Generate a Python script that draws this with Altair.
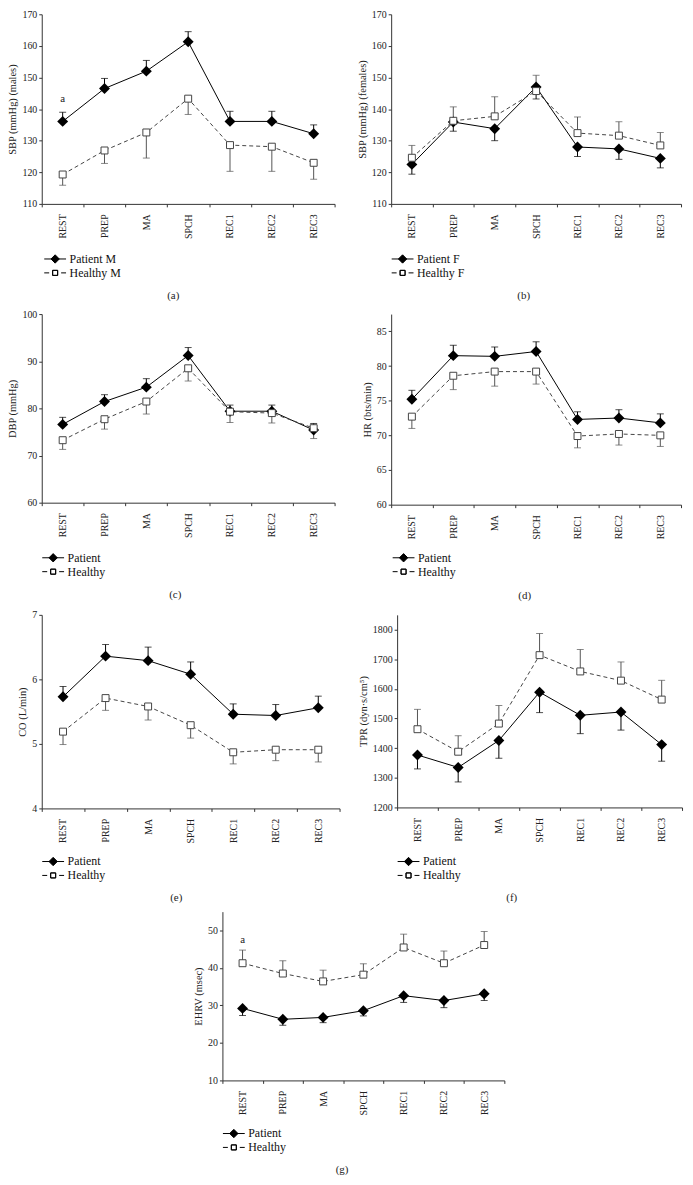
import altair as alt
import pandas as pd

STAGES = ["REST", "PREP", "MA", "SPCH", "REC1", "REC2", "REC3"]

# (a) SBP males
A_PAT = [136.1, 146.5, 152.0, 161.3, 136.1, 136.1, 132.2]
A_PAT_ERR = [2.9, 3.2, 3.4, 3.2, 3.2, 3.2, 2.8]
A_HEA = [119.3, 126.9, 132.6, 143.3, 128.6, 128.1, 123.0]
A_HEA_ERR = [3.4, 4.1, 8.1, 5.0, 8.3, 7.8, 5.2]
# (b) SBP females
B_PAT = [122.5, 135.9, 133.8, 147.0, 128.0, 127.4, 124.4]
B_PAT_ERR = [3.1, 2.9, 3.8, 3.8, 3.0, 3.3, 3.0]
B_HEA = [124.6, 136.3, 137.7, 145.7, 132.4, 131.6, 128.5]
B_HEA_ERR = [3.9, 4.4, 6.2, 5.0, 5.1, 4.4, 4.1]
# (c) DBP
C_PAT = [76.6, 81.45, 84.5, 91.2, 79.4, 79.4, 75.4]
C_PAT_ERR = [1.5, 1.45, 1.8, 1.7, 1.3, 1.3, 1.4]
C_HEA = [73.25, 77.7, 81.45, 88.5, 79.3, 79.0, 75.8]
C_HEA_ERR = [1.95, 2.1, 2.65, 2.7, 2.3, 2.1, 2.2]
# (d) HR
D_PAT = [75.2, 81.5, 81.4, 82.1, 72.3, 72.5, 71.8]
D_PAT_ERR = [1.3, 1.5, 1.35, 1.4, 1.1, 1.2, 1.3]
D_HEA = [72.7, 78.6, 79.2, 79.2, 69.9, 70.2, 70.0]
D_HEA_ERR = [1.7, 2.0, 2.1, 1.8, 1.7, 1.6, 1.6]
# (e) CO
E_PAT = [5.73, 6.36, 6.29, 6.08, 5.46, 5.44, 5.56]
E_PAT_ERR = [0.16, 0.18, 0.21, 0.19, 0.16, 0.17, 0.18]
E_HEA = [5.19, 5.71, 5.58, 5.29, 4.87, 4.91, 4.91]
E_HEA_ERR = [0.20, 0.19, 0.21, 0.20, 0.18, 0.17, 0.19]
# (f) TPR
F_PAT = [1377, 1335, 1426, 1589, 1511, 1522, 1412]
F_PAT_ERR = [47, 49, 60, 69, 62, 61, 56]
F_HEA = [1464, 1388, 1483, 1714, 1659, 1628, 1564]
F_HEA_ERR = [67, 54, 61, 73, 74, 63, 65]
# (g) EHRV
G_PAT = [29.2, 26.3, 26.8, 28.6, 32.6, 31.3, 33.1]
G_PAT_ERR = [1.9, 1.6, 1.4, 1.4, 1.8, 1.9, 1.8]
G_HEA = [41.25, 38.5, 36.4, 38.2, 45.45, 41.25, 46.1]
G_HEA_ERR = [3.5, 3.4, 3.0, 2.9, 3.55, 3.25, 3.6]

NOTE_A = [("REST", 143.2, "a")]
NOTE_G = [("REST", 47.4, "a")]

FONT = "Liberation Serif"
AXC = "#333333"

# legend symbols: line + marker (custom paths, unit = half of sqrt(symbolSize))
PATH_PAT = "M-1.57,0L1.57,0M0,-0.6L0.6,0L0,0.6L-0.6,0Z"
PATH_HEA = ("M-1.57,0L-0.86,0M0.86,0L1.57,0"
            "M-0.36,-0.36L0.36,-0.36L0.36,0.36L-0.36,0.36Z"
            "M-0.36,-0.36L-0.36,0.36L0.36,0.36L0.36,-0.36Z")


def panel(ytitle, caption, labels, pat, pat_err, hea, hea_err, pat_up,
          domain, ticks, width, height, leg_xy, cap_xy, notes=None):
    pl, hl = labels
    sign = 1 if pat_up else -1
    rows = []
    for i, s in enumerate(STAGES):
        rows.append(dict(stage=s, series=pl, value=pat[i], end=pat[i] + sign * pat_err[i]))
        rows.append(dict(stage=s, series=hl, value=hea[i], end=hea[i] - sign * hea_err[i]))
    df = pd.DataFrame(rows)

    xsc = alt.Scale(type="band", paddingInner=0, paddingOuter=0)
    ysc = alt.Scale(domain=domain, nice=False, zero=False)
    xax = alt.Axis(
        title=caption, labelAngle=270, tickBand="extent", tickSize=3,
        labelPadding=7, labelFont=FONT, labelFontSize=10, labelColor="#222",
        titleFont=FONT, titleFontSize=11, titleFontWeight="normal", titleColor="#222",
        titleX=cap_xy[0], titleY=cap_xy[1], titleBaseline="middle", titleAlign="center",
        domainColor=AXC, tickColor=AXC, grid=False)
    yax = alt.Axis(
        title=ytitle, values=ticks, format="d", tickSize=3, labelPadding=2, titlePadding=4,
        labelFont=FONT, labelFontSize=10, labelColor="#222",
        titleFont=FONT, titleFontSize=10.5, titleFontWeight="normal", titleColor="#222",
        domainColor=AXC, tickColor=AXC, grid=False)
    X = alt.X("stage:N", sort=STAGES, scale=xsc, axis=xax)
    Y = alt.Y("value:Q", scale=ysc, axis=yax)
    YE = alt.Y("end:Q", scale=ysc, axis=yax)

    base = alt.Chart(df)
    fp = alt.datum.series == pl
    fh = alt.datum.series == hl

    line_p = base.transform_filter(fp).mark_line(color="black", strokeWidth=1).encode(x=X, y=Y)
    line_h = base.transform_filter(fh).mark_line(color="#444", strokeWidth=1, strokeDash=[4, 3]).encode(x=X, y=Y)
    err_p = base.transform_filter(fp).mark_rule(color="black", strokeWidth=1).encode(x=X, y=Y, y2="end:Q")
    err_h = base.transform_filter(fh).mark_rule(color="#555", strokeWidth=1).encode(x=X, y=Y, y2="end:Q")
    cap_p = base.transform_filter(fp).mark_tick(color="black", size=7, thickness=1, orient="horizontal").encode(
        x=X, y=YE)
    cap_h = base.transform_filter(fh).mark_tick(color="#555", size=7, thickness=1, orient="horizontal").encode(
        x=X, y=YE)
    pt_p = base.transform_filter(fp).mark_point(shape="diamond", filled=True, color="black", size=121,
                                                opacity=1).encode(x=X, y=Y)
    pt_h = base.transform_filter(fh).mark_point(shape="square", fill="white", stroke="#444", strokeWidth=1,
                                                size=49, opacity=1).encode(x=X, y=Y)
    leg = base.mark_point(filled=True, strokeWidth=1, opacity=0).encode(
        x=X, y=Y,
        fill=alt.value("black"), stroke=alt.value("black"),
        shape=alt.Shape("series:N", scale=alt.Scale(domain=[pl, hl], range=[PATH_PAT, PATH_HEA]),
                        legend=alt.Legend(orient="none", legendX=leg_xy[0], legendY=leg_xy[1], title=None,
                                          labelFont=FONT, labelFontSize=12, labelColor="#111",
                                          symbolSize=196, symbolStrokeWidth=1, symbolOpacity=1,
                                          labelOffset=7, rowPadding=0, padding=0, direction="vertical")))
    layers = [line_p, line_h, err_p, err_h, cap_p, cap_h, pt_p, pt_h, leg]
    if notes:
        ndf = pd.DataFrame(notes, columns=["stage", "value", "txt"])
        layers.append(alt.Chart(ndf).mark_text(font=FONT, fontSize=11, color="#222").encode(
            x=X, y=Y, text="txt:N"))
    return alt.layer(*layers).properties(width=width, height=height)


pa = panel("SBP (mmHg) (males)", "(a)", ["Patient M", "Healthy M"], A_PAT, A_PAT_ERR, A_HEA, A_HEA_ERR, True,
           [110, 170], list(range(110, 171, 10)), 295, 191, (6, 239), (132, 92), NOTE_A)
pb = panel("SBP (mmHg) (females)", "(b)", ["Patient F", "Healthy F"], B_PAT, B_PAT_ERR, B_HEA, B_HEA_ERR, False,
           [110, 170], list(range(110, 171, 10)), 292, 191, (4, 239), (133, 92))
pc = panel("DBP (mmHg)", "(c)", ["Patient", "Healthy"], C_PAT, C_PAT_ERR, C_HEA, C_HEA_ERR, True,
           [60, 100], list(range(60, 101, 10)), 295, 190, (4, 238), (134, 93))
pd_ = panel("HR (bts/min)", "(d)", ["Patient", "Healthy"], D_PAT, D_PAT_ERR, D_HEA, D_HEA_ERR, True,
            [60, 87.5], list(range(60, 86, 5)), 292, 192, (5, 238), (134, 92))
pe = panel("CO (L/min)", "(e)", ["Patient", "Healthy"], E_PAT, E_PAT_ERR, E_HEA, E_HEA_ERR, True,
           [4, 7], [4, 5, 6, 7], 300, 195, (4, 241), (135, 90))
pf = panel("TPR (dyn·s/cm⁵)", "(f)", ["Patient", "Healthy"], F_PAT, F_PAT_ERR, F_HEA, F_HEA_ERR, False,
           [1200, 1850], list(range(1200, 1801, 100)), 287, 194, (4, 241), (115, 91))
pg = panel("EHRV (msec)", "(g)", ["Patient", "Healthy"], G_PAT, G_PAT_ERR, G_HEA, G_HEA_ERR, False,
           [10, 55], list(range(10, 51, 10)), 284, 170, (4, 216), (120, 90), NOTE_G)

spacer = alt.Chart(pd.DataFrame({"v": [0]})).mark_point(opacity=0, size=0).properties(width=144, height=10)

ROW_ALIGN = {"row": "all", "column": "none"}


def row(a, b, sp):
    return alt.concat(a, b, columns=2, spacing=sp, align=ROW_ALIGN).resolve_scale(
        shape="independent").resolve_legend(shape="independent")


chart = alt.concat(
    row(pa, pb, 22),
    row(pc, pd_, 27),
    row(pe, pf, 18),
    row(spacer, pg, 9),
    columns=1, spacing=9, align={"row": "none", "column": "none"},
).resolve_scale(shape="independent").resolve_legend(shape="independent").properties(
    padding={"left": 0, "top": -3, "right": 2, "bottom": 2}, background="white"
).configure_view(strokeWidth=0, stroke="transparent")

chart.save("out.html", embed_options={"renderer": "svg", "actions": False})
